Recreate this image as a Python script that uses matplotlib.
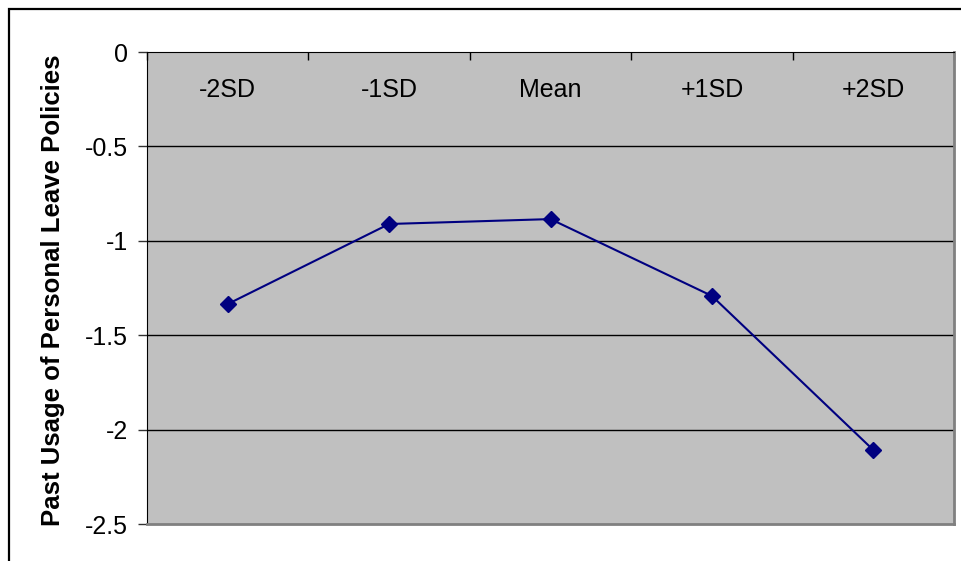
import numpy as np
import matplotlib.pyplot as plt
from matplotlib.patches import Rectangle

plt.rcParams['font.family'] = ['Liberation Sans', 'DejaVu Sans']

categories = ['-2SD', '-1SD', 'Mean', '+1SD', '+2SD']
values = [-1.335, -0.911, -0.885, -1.292, -2.108]
yticks = [0, -0.5, -1, -1.5, -2, -2.5]

W, H = 961, 561
fig = plt.figure(figsize=(W / 100, H / 100), dpi=100)

# outer chart frame (cut off on the right and bottom)
fig.patches.append(Rectangle((9 / W, -0.1), 1.2, (H - 9) / H + 0.1, transform=fig.transFigure,
                             fill=False, edgecolor='black', linewidth=1.6, zorder=0))

x0, x1, y0, y1 = 147, 954, 52, 524
ax = fig.add_axes([x0 / W, 1 - y1 / H, (x1 - x0) / W, (y1 - y0) / H])
ax.set_facecolor('#c0c0c0')

x = np.arange(len(categories))
ax.plot(x, values, color='#000080', linewidth=1.5, marker='D', markersize=8.5, zorder=3)

ax.set_xlim(-0.5, len(categories) - 0.5)
ax.set_ylim(-2.5, 0)
ax.set_yticks(yticks)
ax.set_yticklabels([f'{t:g}' for t in yticks], fontsize=18)
ax.tick_params(axis='y', direction='out', length=6.5, width=1, color='#333333', pad=7)

# category labels drawn inside the plot area near the top
ax.set_xticks([])
for i, c in enumerate(categories):
    ax.text(i, -0.2, c, ha='center', va='center', fontsize=18)
# boundary ticks on the top axis pointing inward
ax.set_xticks(np.arange(len(categories) + 1) - 0.5, minor=True)
ax.tick_params(axis='x', which='minor', direction='in', length=5.5, width=1, color='black',
               top=True, bottom=False)
ax.xaxis.set_ticks_position('top')
ax.tick_params(axis='x', which='major', length=0)

for t in yticks[1:-1]:
    ax.axhline(t, color='black', linewidth=1, zorder=1)

ax.spines['left'].set_color('black')
ax.spines['top'].set_color('black')
ax.spines['right'].set_color('#808080')
ax.spines['bottom'].set_color('#808080')
ax.spines['right'].set_linewidth(2)
ax.spines['bottom'].set_linewidth(2)

fig.text(53 / W, 1 - 290 / H, 'Past Usage of Personal Leave Policies', rotation=90,
         ha='center', va='center', fontsize=18.5, fontweight='bold')

fig.savefig('out.png', dpi=100)
